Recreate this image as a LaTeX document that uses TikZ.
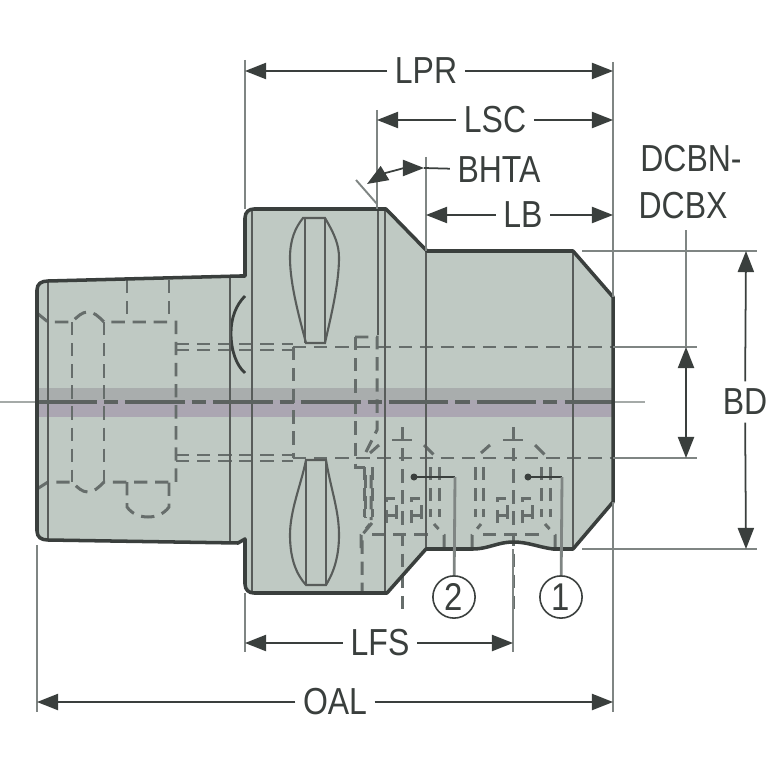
\documentclass[tikz,border=0pt]{standalone}
\usepackage{fontspec}
\setmainfont[FakeStretch=0.85]{Liberation Sans}
\usetikzlibrary{arrows.meta,calc}
\definecolor{bodyfill}{HTML}{BFC9C3}
\definecolor{bandtop}{HTML}{A9ADAD}
\definecolor{bandlow}{HTML}{ABA6B2}
\definecolor{inkdark}{HTML}{3A3F3D}
\definecolor{hidden}{HTML}{666D6B}
\definecolor{extline}{HTML}{7F8583}
\def\bodypath{(37,290) .. controls (37,284) and (41,281) .. (48,281) -- (240,276) -- (245,276)
	-- (245,218) .. controls (245,212) and (249,209) .. (254,209) -- (386,209) -- (427,251) -- (573,251)
	-- (613,297) -- (613,502) -- (573,549) -- (553,549) .. controls (538,547) and (528,542) .. (513,542)
	.. controls (498,542) and (488,549) .. (473,549) -- (426,549) -- (387,593) -- (254,593)
	.. controls (249,593) and (245,590) .. (245,584) -- (245,539) -- (238,543) -- (48,540)
	.. controls (41,540) and (37,537) .. (37,531) -- cycle}
\tikzset{
	outline/.style = {draw=inkdark, line width=1pt, line join=round},
	edgeline/.style = {draw=inkdark!85, line width=.6pt},
	slotline/.style = {draw=inkdark!85, line width=.6pt},
	hid/.style = {draw=hidden, line width=.85pt, dash pattern=on 3.8pt off 2.2pt},
	center/.style = {line width=1pt, dash pattern=on 17pt off 2pt on 4pt off 2pt},
	ext/.style = {draw=extline, line width=.55pt},
	extbold/.style = {draw=extline, line width=.8pt},
	dim/.style = {draw=inkdark, line width=.5pt, -{Triangle[length=6pt,width=4.6pt]}},
	lab/.style = {font=\fontsize{10.7}{12}\selectfont, text=inkdark, inner sep=2pt},
	num/.style = {draw=inkdark, circle, line width=.45pt, minimum size=12pt, inner sep=0pt, font=\fontsize{11}{12}\selectfont, text=inkdark},
}
\begin{document}
\begin{tikzpicture}[x=.01cm, y=-.01cm]
	\useasboundingbox (0,0) rectangle (767,767);
	% body
	\path[fill=bodyfill] \bodypath;
	\fill[bandtop] (37,388) rectangle (613,400);
	\fill[bandlow] (37,400) rectangle (613,417);
	% hidden bores
	\draw[hid] (37,313) -- (48,322) -- (72,322) .. controls (78,316) and (82,312) .. (88,312) .. controls (94,312) and (98,316) .. (104,322) -- (176,322) -- (176,482)
		-- (104,482) .. controls (98,488) and (94,492) .. (88,492) .. controls (82,492) and (78,488) .. (72,482) -- (48,482) -- (37,489);
	\draw[hid] (72,322) -- (72,482) (104,322) -- (104,482);
	\draw[hid] (127,280) -- (127,322) (169,280) -- (169,322);
	\draw[hid] (127,482) -- (127,507) .. controls (132,514) and (140,517) .. (148,517) .. controls (156,517) and (164,514) .. (169,507) -- (169,482);
	\draw[hid] (176,344) -- (293,344) (176,350) -- (293,350) (176,455) -- (293,455) (176,461) -- (293,461);
	\draw[hid] (293,347) -- (293,458);
	\draw[hid] (293,347) -- (652,347) (293,458) -- (652,458);
	\draw[hid] (355,337) -- (377,337) -- (377,430) -- (366,452);
	\draw[hid] (355,337) -- (355,458) -- (355,467) -- (365,467) -- (365,517);
	\draw[hid] (371,475) -- (371,520) (372,523) -- (362,535) -- (362,593);
	\foreach \cx in {402,513} {
		\draw[hid] ($(\cx,427)$) -- ($(\cx,610)$);
		\draw[hidden, line width=.5pt] ($(\cx,440)+(-10,0)$) -- ($(\cx,440)+(10,0)$);
		\draw[hid] ($(\cx,453)+(-32,0)$) -- ($(\cx,445)+(-23,0)$) ($(\cx,445)+(22,0)$) -- ($(\cx,455)+(32,0)$);
		\foreach \dx in {-38,-30,28,37} {
			\draw[hid] ($(\cx,467)+(\dx,0)$) -- ($(\cx,517)+(\dx,0)$);
		}
		\foreach \dx in {-11,14} {
			\draw[hid] ($(\cx,523)+(\dx-5,0)$) -- ($(\cx,498)+(\dx-5,0)$) -- ($(\cx,498)+(\dx+5,0)$) -- ($(\cx,523)+(\dx+5,0)$);
			\draw[hid] ($(\cx,515)+(\dx-5,0)$) -- ($(\cx,515)+(\dx+5,0)$);
		}
		\draw[hid] ($(\cx,534)+(-30,0)$) -- ($(\cx,534)+(30,0)$);
		\draw[hid] ($(\cx,548)+(-41,0)$) -- ($(\cx,535)+(-41,0)$) -- ($(\cx,524)+(-32,0)$);
		\draw[hid] ($(\cx,548)+(42,0)$) -- ($(\cx,535)+(42,0)$) -- ($(\cx,524)+(32,0)$);
	}
	% slots
	\draw[slotline, fill=bodyfill] (303,218) -- (325,218) .. controls (335,235) and (339,245) .. (339,258) .. controls (339,285) and (330,320) .. (325,343) -- (306,343) .. controls (300,320) and (290,285) .. (290,258) .. controls (290,240) and (295,228) .. (303,218) -- cycle;
	\draw[slotline, fill=bodyfill] (306,460) -- (326,460) .. controls (331,490) and (339,510) .. (339,535) .. controls (339,560) and (332,575) .. (326,585) -- (306,585) .. controls (297,575) and (290,560) .. (290,535) .. controls (290,510) and (301,485) .. (306,460) -- cycle;
	\draw[slotline] (305,218) -- (305,343) (325,218) -- (325,343) (306,460) -- (306,585) (326,460) -- (326,585);
	\draw[outline, line width=.8pt] (245,296) .. controls (236,305) and (231,318) .. (231,333) .. controls (231,350) and (236,365) .. (245,373);
	% inner edges
	\draw[edgeline] (48,281) -- (48,540) (230,276) -- (230,543) (252,209) -- (252,593)
		(385,209) -- (385,593) (426,251) -- (426,549) (573,251) -- (573,549);
	\draw[edgeline] (378,209) -- (378,335);
	% center line
	\draw[center, line width=.7pt, draw=extline!70] (0,402) -- (37,402);
	\draw[center, draw=hidden!90!black] (37,402) -- (613,402);
	\draw[center, line width=.7pt, draw=extline!70, dash phase=8pt] (613,402) -- (650,402);
	% outline
	\draw[outline] \bodypath;
	% end points of the dimensions
	\coordinate (lprL) at (245,71);   \coordinate (lprR) at (613,71);
	\coordinate (lscL) at (377,120);  \coordinate (lscR) at (613,120);
	\coordinate (lbL) at (426,215);   \coordinate (lbR) at (613,215);
	\coordinate (oalL) at (37,702);   \coordinate (oalR) at (613,702);
	\coordinate (lfsL) at (245,643);  \coordinate (lfsR) at (513,643);
	\coordinate (bdT) at (746,251);   \coordinate (bdB) at (746,549);
	\coordinate (dcT) at (686,347);   \coordinate (dcB) at (686,458);
	\coordinate (dcTop) at (686,230); \coordinate (dcMid) at (686,400);
	\coordinate (bhtaL) at (367,184); \coordinate (bhtaR) at (424,168);
	\coordinate (dot2) at (414,477);  \coordinate (dot1) at (528,477);
	\coordinate (knee2) at (455,477); \coordinate (knee1) at (562,477);
	% labels
	\node[lab] (LPR) at (426,71) {LPR};
	\node[lab] (LSC) at (495,120) {LSC};
	\node[lab] (LB) at (523,215) {LB};
	\node[lab] (BHTA) at (499,170) {BHTA};
	\node[lab] (DCBN) at (691,159) {DCBN-};
	\node[lab] (DCBX) at (683,206) {DCBX};
	\node[lab] (BD) at (745,402) {BD};
	\node[lab] (LFS) at (380,643) {LFS};
	\node[lab] (OAL) at (335,702) {OAL};
	\node[num] (two) at (454,597) {2};
	\node[num] (one) at (561,597) {1};
	% extension lines
	\draw[extbold] (613,62) -- (613,297) (613,502) -- (613,712);
	\draw[extbold] (245,60) -- (245,209) (245,593) -- (245,652) (37,545) -- (37,712);
	\draw[extbold] (513,549) -- (513,652);
	\draw[ext] (377,110) -- (377,209) (426,157) -- (426,251);
	\draw[ext] (582,251) -- (757,251) (582,549) -- (757,549);
	\draw[ext] (613,347) -- (697,347) (613,458) -- (697,458);
	\draw[ext] (356,180) -- (377,204);
	\draw[ext] (dcTop) -- (dcT);
	% dimensions
	\path (LPR) edge[dim] (lprL) (LPR) edge[dim] (lprR)
		(LSC) edge[dim] (lscL) (LSC) edge[dim] (lscR)
		(LB) edge[dim] (lbL) (LB) edge[dim] (lbR)
		(LFS) edge[dim] (lfsL) (LFS) edge[dim] (lfsR)
		(OAL) edge[dim] (oalL) (OAL) edge[dim] (oalR)
		(BD) edge[dim] (bdT) (BD) edge[dim] (bdB)
		(dcMid) edge[dim] (dcT) (dcMid) edge[dim] (dcB)
		(BHTA) edge[draw=inkdark, line width=.5pt] (bhtaR);
	\draw[draw=inkdark, line width=.5pt, {Triangle[length=6pt,width=4.6pt]}-{Triangle[length=6pt,width=4.6pt]}] (bhtaL) .. controls (385,173) and (405,168) .. (bhtaR);
	% leaders
	\fill[inkdark] (dot2) circle (3.5) (dot1) circle (3.5);
	\draw[inkdark, line width=.45pt] (dot2) -- (knee2) (dot1) -- (knee1);
	\draw[extbold] (knee2) -- (two) (knee1) -- (one);
\end{tikzpicture}
\end{document}
